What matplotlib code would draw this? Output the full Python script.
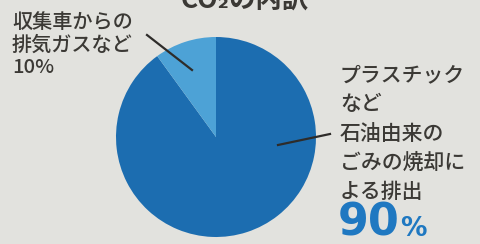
import matplotlib
matplotlib.use('Agg')
import matplotlib.pyplot as plt

# data
labels = ['石油由来のごみの焼却', '収集車の排気ガスなど']
shares = [90, 10]
colors = ['#1c6db0', '#4da2d6']

W, H = 481, 244
bg = '#e2e2de'
ink = '#3b3935'
jp = ['Noto Sans CJK JP', 'DejaVu Sans']

fig = plt.figure(figsize=(W / 100, H / 100), dpi=100, facecolor=bg)
ax = fig.add_axes([0, 0, 1, 1])
ax.set_facecolor(bg)

# pie: center/radius in pixel units of the axes
ax.pie(shares, colors=colors, startangle=90, counterclock=False,
       center=(216, H - 137), radius=100,
       wedgeprops=dict(linewidth=0))
ax.set_xlim(0, W)
ax.set_ylim(0, H)
ax.set_aspect('equal')
ax.axis('off')

# title (cut off at the top)
ax.text(245, H - 8, 'CO₂の内訳', family=jp, fontsize=19, fontweight='bold',
        color=ink, ha='center', va='baseline')

# left label
ax.text(12, H - 13, '収集車からの\n排気ガスなど\n10%', family=jp, fontsize=14.5,
        fontweight='medium', color=ink, ha='left', va='top', linespacing=1.22)
ax.plot([147, 192], [H - 35, H - 70], color='#2e2c2a', lw=1.6)

# right label
ax.text(340, H - 64, 'プラスチック\nなど\n石油由来の\nごみの焼却に\nよる排出', family=jp,
        fontsize=15, fontweight='medium', color=ink, ha='left', va='top',
        linespacing=1.43)
ax.plot([278, 330], [H - 145, H - 134], color='#2e2c2a', lw=1.6)

ax.text(338, H - 236, '90', family='DejaVu Sans', fontsize=32, fontweight='bold',
        color='#1f78c1', ha='left', va='baseline')
ax.text(400, H - 236, '%', family='DejaVu Sans', fontsize=19, fontweight='bold',
        color='#1f78c1', ha='left', va='baseline')

fig.savefig('out.png', dpi=100, facecolor=bg)
